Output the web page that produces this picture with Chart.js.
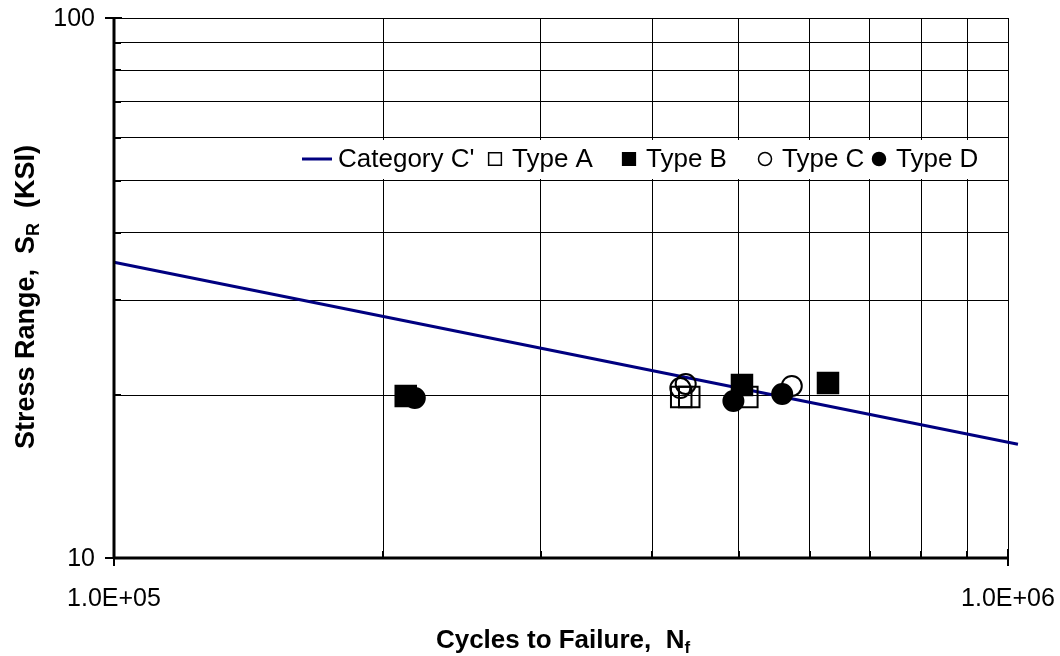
<!DOCTYPE html>
<html>
<head>
<meta charset="utf-8">
<title>Stress Range vs Cycles to Failure</title>
<script src="https://cdn.jsdelivr.net/npm/chart.js@4.4.1/dist/chart.umd.min.js"></script>
<style>
  html, body { margin: 0; padding: 0; background: #ffffff; }
  #wrap { width: 1060px; height: 656px; }
</style>
</head>
<body>
<div id="wrap"><canvas id="chart" width="1060" height="656"></canvas></div>
<script>
// S-N design curve for detail Category C'
const categoryN = [1.0e5, 1.026e6];
const categoryS = [35.3, 16.24];

// Test results, cycles to failure and stress range (ksi)
const typeA_N = [4.31e5, 4.40e5, 5.11e5];
const typeA_S = [19.87, 19.87, 19.87];

const typeB_N = [2.12e5, 5.04e5, 6.29e5];
const typeB_S = [19.95, 20.91, 21.1];

const typeC_N = [4.30e5, 4.36e5, 5.73e5];
const typeC_S = [20.64, 21.0, 20.83];

const typeD_N = [2.17e5, 4.93e5, 5.59e5];
const typeD_S = [19.79, 19.53, 20.12];

// Axis ranges and labelled ticks
const xRange = [1e5, 1e6];
const yRange = [10, 100];
const xTickValues = [1e5, 1e6];
const xTickLabels = ['1.0E+05', '1.0E+06'];
const yTickValues = [10, 100];
const yTickLabels = ['10', '100'];

const seriesNames = ["Category C'", 'Type A', 'Type B', 'Type C', 'Type D'];

const FONT = "'Liberation Sans', Arial, Helvetica, sans-serif";
const NAVY = '#000080';

function pairs(xs, ys) {
  return xs.map((x, i) => ({ x: x, y: ys[i] }));
}

// one grid line per integer multiple of the lower decade: 1,2,...,9,10 x decade
function decadeTicks(scale) {
  const base = scale.min;
  const list = [];
  for (let m = 1; m <= 10; m++) list.push({ value: base * m });
  scale.ticks = list;
}

// Axes, tick marks, tick labels, axis titles and the in-plot legend
const decorations = {
  id: 'decorations',
  afterDraw(chart) {
    const ctx = chart.ctx;
    const area = chart.chartArea;
    const xs = chart.scales.x;
    const ys = chart.scales.y;
    ctx.save();

    // legend panel
    ctx.fillStyle = '#ffffff';
    ctx.fillRect(290, 140, 708, 39);

    // axis lines
    ctx.strokeStyle = '#000';
    ctx.lineWidth = 3;
    ctx.beginPath();
    ctx.moveTo(area.left, area.top);
    ctx.lineTo(area.left, area.bottom);
    ctx.moveTo(area.left, area.bottom);
    ctx.lineTo(area.right, area.bottom);
    ctx.stroke();

    // minor tick marks point into the plot, decade ticks cross the axis
    ctx.lineWidth = 2;
    ctx.beginPath();
    ys.ticks.forEach(t => {
      const py = Math.round(ys.getPixelForValue(t.value));
      if (yTickValues.includes(t.value)) {
        ctx.moveTo(area.left - 9, py);
        ctx.lineTo(area.left + 8, py);
      } else {
        ctx.moveTo(area.left, py);
        ctx.lineTo(area.left + 7, py);
      }
    });
    xs.ticks.forEach(t => {
      const px = Math.round(xs.getPixelForValue(t.value));
      if (xTickValues.includes(t.value)) {
        ctx.moveTo(px, area.bottom - 9);
        ctx.lineTo(px, area.bottom + 8);
      } else {
        ctx.moveTo(px, area.bottom);
        ctx.lineTo(px, area.bottom - 7);
      }
    });
    ctx.stroke();

    // tick labels
    ctx.fillStyle = '#000';
    ctx.font = '25px ' + FONT;
    ctx.textBaseline = 'middle';
    ctx.textAlign = 'right';
    yTickValues.forEach((v, i) => {
      ctx.fillText(yTickLabels[i], area.left - 19, ys.getPixelForValue(v) + 1);
    });
    ctx.textAlign = 'center';
    ctx.textBaseline = 'alphabetic';
    xTickValues.forEach((v, i) => {
      ctx.fillText(xTickLabels[i], xs.getPixelForValue(v), area.bottom + 48);
    });

    // axis titles with subscripts
    function titleWidth(parts, bold, boldSub) {
      let w = 0;
      parts.forEach(p => { ctx.font = p.sub ? boldSub : bold; w += ctx.measureText(p.t).width; });
      return w;
    }
    function drawParts(parts, x0, y0, bold, boldSub) {
      let x = x0;
      ctx.textAlign = 'left';
      ctx.textBaseline = 'alphabetic';
      parts.forEach(p => {
        ctx.font = p.sub ? boldSub : bold;
        ctx.fillText(p.t, x, y0 + (p.sub ? 5 : 0));
        x += ctx.measureText(p.t).width;
      });
    }
    const xBold = 'bold 26px ' + FONT;
    const xSub = 'bold 17px ' + FONT;
    const xTitle = [{ t: 'Cycles to Failure,  N' }, { t: 'f', sub: true }];
    const xw = titleWidth(xTitle, xBold, xSub);
    drawParts(xTitle, (area.left + area.right) / 2 + 2 - xw / 2, 648, xBold, xSub);

    const yBold = 'bold 27px ' + FONT;
    const ySub = 'bold 18px ' + FONT;
    const yTitle = [{ t: 'Stress Range,  S' }, { t: 'R', sub: true }, { t: '  (KSI)' }];
    const yw = titleWidth(yTitle, yBold, ySub);
    ctx.save();
    ctx.translate(34, 297 + yw / 2);
    ctx.rotate(-Math.PI / 2);
    drawParts(yTitle, 0, 0, yBold, ySub);
    ctx.restore();

    // legend entries
    const ly = 159;
    ctx.font = '26px ' + FONT;
    ctx.textAlign = 'left';
    ctx.textBaseline = 'middle';
    ctx.strokeStyle = NAVY;
    ctx.lineWidth = 3;
    ctx.beginPath();
    ctx.moveTo(302, ly);
    ctx.lineTo(332, ly);
    ctx.stroke();
    ctx.fillStyle = '#000';
    ctx.fillText(seriesNames[0], 338, ly + 1);

    const marks = [
      { cx: 495, style: 'rect', r: 9, fill: false },
      { cx: 629, style: 'rect', r: 9, fill: true },
      { cx: 765, style: 'circle', r: 6.5, fill: false },
      { cx: 879, style: 'circle', r: 6.5, fill: true }
    ];
    marks.forEach((m, i) => {
      ctx.strokeStyle = '#000';
      ctx.lineWidth = 1.5;
      ctx.fillStyle = m.fill ? '#000' : 'rgba(0,0,0,0)';
      Chart.helpers.drawPoint(ctx, { pointStyle: m.style, radius: m.r, rotation: 0, borderWidth: 1.5 }, m.cx, ly);
      ctx.fillStyle = '#000';
      ctx.font = '26px ' + FONT;
      ctx.textBaseline = 'middle';
      ctx.textAlign = 'left';
      ctx.fillText(seriesNames[i + 1], m.cx + 17, ly + 1);
    });

    ctx.restore();
  }
};

const markerBase = {
  showLine: false,
  borderColor: '#000',
  borderWidth: 2,
  pointBorderColor: '#000',
  pointBorderWidth: 2,
  pointHoverRadius: 0
};

new Chart(document.getElementById('chart'), {
  type: 'scatter',
  data: {
    datasets: [
      {
        label: seriesNames[0],
        data: pairs(categoryN, categoryS),
        showLine: true,
        borderColor: NAVY,
        borderWidth: 3,
        pointRadius: 0,
        pointHoverRadius: 0,
        fill: false,
        clip: false,
        order: 5
      },
      Object.assign({}, markerBase, {
        label: seriesNames[1],
        data: pairs(typeA_N, typeA_S),
        pointStyle: 'rect',
        pointRadius: 14.5,
        pointBackgroundColor: 'rgba(0,0,0,0)',
        order: 4
      }),
      Object.assign({}, markerBase, {
        label: seriesNames[2],
        data: pairs(typeB_N, typeB_S),
        pointStyle: 'rect',
        pointRadius: 14.5,
        pointBackgroundColor: '#000',
        order: 3
      }),
      Object.assign({}, markerBase, {
        label: seriesNames[3],
        data: pairs(typeC_N, typeC_S),
        pointStyle: 'circle',
        pointRadius: 10,
        pointBackgroundColor: 'rgba(0,0,0,0)',
        order: 2
      }),
      Object.assign({}, markerBase, {
        label: seriesNames[4],
        data: pairs(typeD_N, typeD_S),
        pointStyle: 'circle',
        pointRadius: 10,
        pointBackgroundColor: '#000',
        order: 1
      })
    ]
  },
  options: {
    responsive: false,
    animation: false,
    events: [],
    layout: { padding: { top: 18, right: 52, left: 0, bottom: 0 } },
    plugins: {
      legend: { display: false },
      tooltip: { enabled: false }
    },
    scales: {
      x: {
        type: 'logarithmic',
        min: xRange[0],
        max: xRange[1],
        afterBuildTicks: decadeTicks,
        afterFit(scale) { scale.height = 98; },
        ticks: { display: false, autoSkip: false },
        grid: { color: '#000', lineWidth: 1, drawTicks: false },
        border: { display: false },
        title: { display: false }
      },
      y: {
        type: 'logarithmic',
        min: yRange[0],
        max: yRange[1],
        afterBuildTicks: decadeTicks,
        afterFit(scale) { scale.width = 114; },
        ticks: { display: false, autoSkip: false },
        grid: { color: '#000', lineWidth: 1, drawTicks: false },
        border: { display: false },
        title: { display: false }
      }
    }
  },
  plugins: [decorations]
});
</script>
</body>
</html>
